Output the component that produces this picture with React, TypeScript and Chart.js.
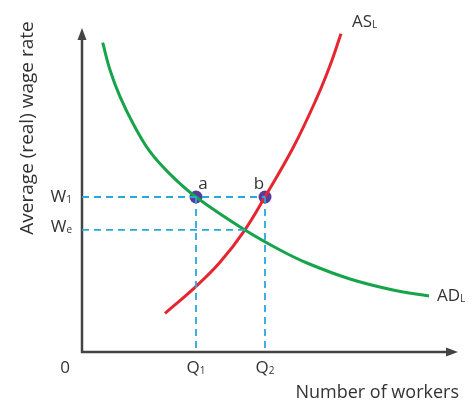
import React, { useEffect, useRef } from "react";
import { Chart, registerables } from "chart.js";

Chart.register(...registerables);

// Curve samples (x: number of workers, y: wage rate, 0-100 units)
const adX = [5.51, 7.45, 10.11, 13.64, 18.09, 23.4, 30.32, 43.35, 52.66, 59.84, 71.28, 82.71, 92.29];
const adY = [95.46, 87.04, 78.8, 70.37, 61.82, 54.91, 47.84, 37.65, 31.48, 27.47, 22.53, 19.14, 17.28];
const asX = [22.07, 30.05, 36.7, 43.35, 48.67, 56.2, 62.42, 65.96, 68.88];
const asY = [11.94, 19.97, 27.69, 37.72, 47.9, 63.18, 78.33, 88.4, 98.24];

const W1 = 47.84;
const We = 37.7;
const Q1 = 30.32;
const Q2 = 48.67;
const Qe = 43.35;

const FONT = "'Open Sans', 'DejaVu Sans', sans-serif";
const TXT = "#333";

function drawSub(ctx: CanvasRenderingContext2D, main: string, sub: string, x: number, y: number, align: "left" | "right" | "center", size = 17) {
  ctx.save();
  ctx.textBaseline = "middle";
  ctx.fillStyle = TXT;
  ctx.font = `${size}px ${FONT}`;
  const mw = ctx.measureText(main).width;
  ctx.font = `${Math.round(size * 0.6)}px ${FONT}`;
  const sw = ctx.measureText(sub).width;
  const total = mw + sw;
  let x0 = x;
  if (align === "right") x0 = x - total;
  else if (align === "center") x0 = x - total / 2;
  ctx.textAlign = "left";
  ctx.font = `${size}px ${FONT}`;
  ctx.fillText(main, x0, y);
  ctx.font = `${Math.round(size * 0.6)}px ${FONT}`;
  ctx.fillText(sub, x0 + mw, y + size * 0.2);
  ctx.restore();
}

const decorPlugin = {
  id: "decor",
  beforeDatasetsDraw(chart: any) {
    const { ctx, chartArea } = chart;
    const { left, right, top, bottom } = chartArea;
    ctx.save();
    ctx.strokeStyle = "#444";
    ctx.fillStyle = "#444";
    ctx.lineWidth = 2.5;
    ctx.beginPath();
    ctx.moveTo(left, top + 8);
    ctx.lineTo(left, bottom);
    ctx.lineTo(right - 8, bottom);
    ctx.stroke();
    ctx.beginPath();
    ctx.moveTo(left, top);
    ctx.lineTo(left - 4.5, top + 12);
    ctx.lineTo(left + 4.5, top + 12);
    ctx.closePath();
    ctx.fill();
    ctx.beginPath();
    ctx.moveTo(right, bottom);
    ctx.lineTo(right - 12, bottom - 4.5);
    ctx.lineTo(right - 12, bottom + 4.5);
    ctx.closePath();
    ctx.fill();
    ctx.restore();
  },
  afterDatasetsDraw(chart: any) {
    const { ctx, scales } = chart;
    const xs = scales.x;
    const ys = scales.y;
    const px = (v: number) => xs.getPixelForValue(v);
    const py = (v: number) => ys.getPixelForValue(v);
    ctx.save();
    drawSub(ctx, "W", "1", px(0) - 10, py(W1), "right");
    drawSub(ctx, "W", "e", px(0) - 10, py(We) - 3, "right");
    drawSub(ctx, "Q", "1", px(Q1), py(0) + 16, "center");
    drawSub(ctx, "Q", "2", px(Q2), py(0) + 16, "center");
    drawSub(ctx, "AS", "L", px(asX[asX.length - 1]) + 11, py(asY[asY.length - 1]) - 12, "left");
    drawSub(ctx, "AD", "L", px(adX[adX.length - 1]) + 8, py(adY[adY.length - 1]), "left");
    ctx.fillStyle = TXT;
    ctx.textBaseline = "middle";
    ctx.textAlign = "center";
    ctx.font = `17px ${FONT}`;
    ctx.fillText("a", px(Q1) + 7, py(W1) - 13);
    ctx.fillText("b", px(Q2) - 6, py(W1) - 13);
    ctx.fillText("0", px(0) - 17, py(0) + 16);
    ctx.font = `18px ${FONT}`;
    ctx.textAlign = "right";
    ctx.fillText("Number of workers", xs.right + 1, py(0) + 41);
    ctx.save();
    ctx.font = `19px ${FONT}`;
    ctx.translate(28, 128);
    ctx.rotate(-Math.PI / 2);
    ctx.textAlign = "center";
    ctx.fillText("Average (real) wage rate", 0, 0);
    ctx.restore();
    ctx.restore();
  },
};

export default function App() {
  const ref = useRef<HTMLCanvasElement>(null);
  useEffect(() => {
    if (!ref.current) return;
    const dash = "#2aa8dc";
    const dashStyle = {
      borderColor: dash,
      borderWidth: 1.8,
      borderDash: [7, 5],
      pointRadius: 0,
      fill: false,
      tension: 0,
    };
    const chart = new Chart(ref.current, {
      type: "line",
      data: {
        datasets: [
          { ...dashStyle, data: [{ x: 0, y: W1 }, { x: Q2, y: W1 }] },
          { ...dashStyle, data: [{ x: 0, y: We }, { x: Qe, y: We }] },
          { ...dashStyle, data: [{ x: Q1, y: W1 }, { x: Q1, y: 0 }] },
          { ...dashStyle, data: [{ x: Q2, y: W1 }, { x: Q2, y: 0 }] },
          {
            data: adX.map((x, i) => ({ x, y: adY[i] })),
            borderColor: "#17a34a",
            borderWidth: 3,
            pointRadius: 0,
            tension: 0.4,
            fill: false,
          },
          {
            data: asX.map((x, i) => ({ x, y: asY[i] })),
            borderColor: "#e52630",
            borderWidth: 3,
            pointRadius: 0,
            tension: 0.4,
            fill: false,
          },
          {
            data: [{ x: Q1, y: W1 }, { x: Q2, y: W1 }],
            showLine: false,
            pointRadius: 6.5,
            pointBackgroundColor: "#5a3b9c",
            pointBorderColor: "#5a3b9c",
            pointBorderWidth: 0,
          },
        ] as any,
      },
      options: {
        animation: false,
        responsive: false,
        maintainAspectRatio: false,
        layout: { padding: { left: 82, right: 15, top: 28, bottom: 50 } },
        plugins: { legend: { display: false }, tooltip: { enabled: false } },
        scales: {
          x: { type: "linear", min: 0, max: 100, display: false },
          y: { type: "linear", min: 0, max: 100, display: false },
        },
      },
      plugins: [decorPlugin],
    });
    return () => chart.destroy();
  }, []);
  return (
    <div style={{ position: "fixed", left: 0, top: 0, width: 473, height: 402, background: "#fff" }}>
      <canvas ref={ref} width={473} height={402} style={{ width: 473, height: 402 }} />
    </div>
  );
}
